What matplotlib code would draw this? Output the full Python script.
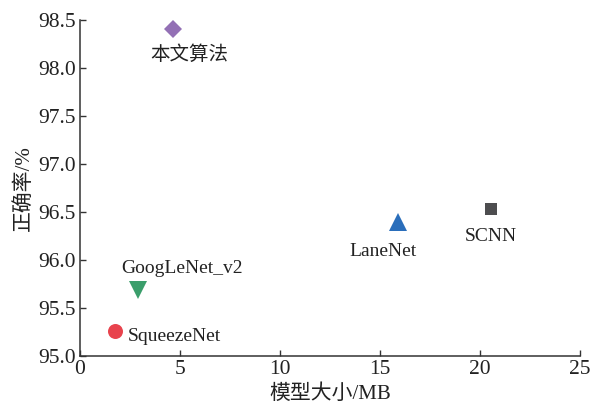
import matplotlib
matplotlib.use("Agg")
import matplotlib.pyplot as plt

plt.rcParams['font.family'] = ['Liberation Serif', 'Noto Sans CJK SC']
plt.rcParams['mathtext.fontset'] = 'stix'

# Model size (MB) vs. accuracy (%)
models = ['本文算法', 'SCNN', 'LaneNet', 'GoogLeNet_v2', 'SqueezeNet']
size_mb = [4.63, 20.55, 15.9, 2.9, 1.75]
accuracy = [98.41, 96.53, 96.39, 95.68, 95.26]

markers = ['D', 's', '^', 'v', 'o']
colors = ['#9370B5', '#4D4D4F', '#2A6EBB', '#3A9E6B', '#E8434D']
marker_sizes = [9.2, 8.6, 12.5, 12.5, 10.8]
# label offsets in points (dx, dy) and alignment
label_offsets = [(12, -19, 'center'), (0, -20, 'center'), (-11, -21, 'center'),
                 (32, 16, 'center'), (9, -4, 'left')]

fig = plt.figure(figsize=(5.92, 4.03), dpi=100)
ax = fig.add_axes([0.1351, 0.1174, 0.8446, 0.833])

for name, x, y, m, c, ms, (dx, dy, ha) in zip(models, size_mb, accuracy, markers,
                                              colors, marker_sizes, label_offsets):
    ax.plot(x, y, marker=m, color=c, markersize=ms, linestyle='none',
            markeredgewidth=0, clip_on=False)
    ax.annotate(name, (x, y), xytext=(dx, dy), textcoords='offset points',
                ha=ha, va='center', fontsize=14, color='#222222')

ax.set_xlim(0, 25)
ax.set_ylim(95.0, 98.5)
ax.set_xticks([0, 5, 10, 15, 20, 25])
ax.set_yticks([95.0, 95.5, 96.0, 96.5, 97.0, 97.5, 98.0, 98.5])
ax.yaxis.set_major_formatter(matplotlib.ticker.FormatStrFormatter('%.1f'))

for side in ['top', 'right']:
    ax.spines[side].set_visible(False)
for side in ['left', 'bottom']:
    ax.spines[side].set_color('#333333')
    ax.spines[side].set_linewidth(1.1)

ax.tick_params(direction='in', length=4, width=1.0, color='#333333',
               labelsize=15.5, labelcolor='#222222', pad=3)
for lbl in ax.get_xticklabels() + ax.get_yticklabels():
    lbl.set_fontfamily(['Liberation Serif'])

ax.set_xlabel('模型大小/MB', fontsize=15, color='#222222', labelpad=4)
ax.set_ylabel('正确率/%', fontsize=15, color='#222222', labelpad=3)

fig.savefig('out.png', dpi=100)
